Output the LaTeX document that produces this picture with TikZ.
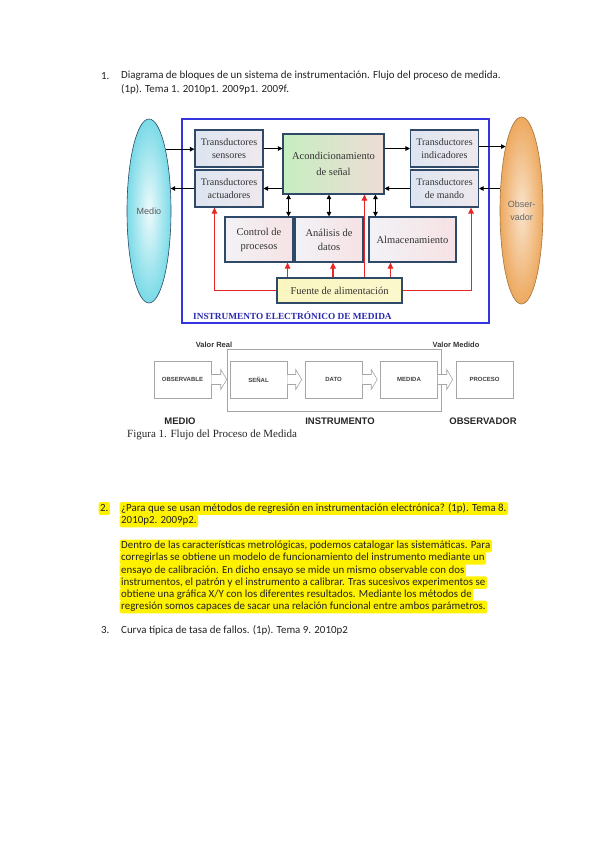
\documentclass[tikz,border=0pt]{standalone}
\usepackage{fontspec}
\setmainfont{Carlito}
\newfontfamily\serifb{Liberation Serif}
\newfontfamily\sansb{Liberation Sans}
\usetikzlibrary{arrows.meta,calc,shapes.geometric}
\definecolor{frameblue}{HTML}{3434E0}
\definecolor{labelblue}{HTML}{2A2AB0}
\definecolor{boxedge}{HTML}{2F4A68}
\definecolor{tbl}{HTML}{DDE5F0}
\definecolor{tbr}{HTML}{EEE8EE}
\definecolor{acl}{HTML}{C6EEC0}
\definecolor{acr}{HTML}{EEDCD6}
\definecolor{lowl}{HTML}{F2F2F6}
\definecolor{lowr}{HTML}{F6E2E4}
\definecolor{fuentefill}{HTML}{FAF6C0}
\definecolor{medioc}{HTML}{6AD6E4}
\definecolor{obsc}{HTML}{ECA456}
\definecolor{redarr}{HTML}{E82626}
\definecolor{hl}{HTML}{FFF200}
\definecolor{txt}{HTML}{222222}
\newcommand\harrow[2]{\draw[harr] ($(#1.east)+(0,-5)$) -- ($(#2.west)+(-9,-5)$) -- ($(#2.west)+(-9,-10)$) -- ($(#2.west)+(-3,0)$) -- ($(#2.west)+(-9,10)$) -- ($(#2.west)+(-9,5)$) -- ($(#1.east)+(0,5)$);}
\begin{document}
\begin{tikzpicture}[x=1pt,y=-1pt,
  tbox/.style={draw=boxedge, line width=1.1pt, left color=tbl, right color=tbr, align=center, text=black!80, inner sep=0pt, font=\serifb\fontsize{10}{13}\selectfont, minimum width=68, minimum height=37},
  lbox/.style={draw=boxedge, line width=1.1pt, left color=lowl, right color=lowr, align=center, text=black!80, inner sep=0pt, font=\serifb\fontsize{10.5}{14}\selectfont, minimum height=45},
  blk/.style={line width=0.9pt, -{Triangle[length=4.5pt,width=4.5pt]}},
  blk2/.style={line width=0.9pt, {Triangle[length=4.5pt,width=4.5pt]}-{Triangle[length=4.5pt,width=4.5pt]}},
  rarr/.style={draw=redarr, line width=1.1pt, -{Triangle[length=6pt,width=5.5pt]}},
  fbox/.style={draw=gray!70, line width=0.6pt, minimum width=57, minimum height=37, inner sep=0pt, font=\sansb\bfseries\fontsize{6}{7}\selectfont, text=black!75},
  harr/.style={draw=gray!70, line width=0.6pt, fill=white},
  flab/.style={font=\sansb\bfseries\fontsize{9.5}{11}\selectfont, text=black!85},
  qtxt/.style={font=\fontsize{10.9}{12}\selectfont, text=txt, anchor=west, inner sep=0pt},
  hlt/.style={qtxt, fill=hl, inner xsep=1.5pt, inner ysep=0.6pt, text height=8.4pt, text depth=3pt, rounded corners=1.5pt}
]
\useasboundingbox (0,0) rectangle (599,848);
\fill[white] (0,0) rectangle (599,848);

% ---------- question 1 ----------
\node[qtxt] (n1) at (101,76) {1.};
\node[qtxt] (t1a) at (121,76) {Diagrama de bloques de un sistema de instrumentación. Flujo del proceso de medida.};
\node[qtxt] (t1b) at (121,89) {(1p). Tema 1. 2010p1. 2009p1. 2009f.};

% ---------- block diagram ----------
\node[draw=frameblue, line width=1.3pt, minimum width=307, minimum height=204, inner sep=0pt] (frame) at (335.5,221) {};
\node[ellipse, draw=boxedge, line width=0.6pt, inner color=medioc!12, outer color=medioc!90, minimum width=44, minimum height=184, inner sep=0pt, font=\sansb\fontsize{9}{11}\selectfont, text=black!65] (medio) at (149,211) {Medio};
\node[ellipse, draw=obsc!70!black, line width=0.6pt, inner color=obsc!30, outer color=obsc!95, minimum width=43, minimum height=187, inner sep=0pt, align=center, font=\sansb\fontsize{9}{13}\selectfont, text=black!60] (obs) at (521.5,210.5) {Obser-\\vador};

\node[tbox] (sens) at (229,148.5) {Transductores\\sensores};
\node[tbox] (act) at (229,188.5) {Transductores\\actuadores};
\node[tbox] (ind) at (444.5,148.5) {Transductores\\indicadores};
\node[tbox] (mando) at (444.5,188.5) {Transductores\\de mando};
\node[tbox, left color=acl, right color=acr, minimum width=101, minimum height=60, font=\serifb\fontsize{10.5}{16}\selectfont] (acond) at (333.5,164) {Acondicionamiento\\de señal};
\node[lbox, minimum width=68] (ctrl) at (259,239.5) {Control de\\procesos};
\node[lbox, minimum width=68] (anal) at (329,239.5) {Análisis de\\datos};
\node[lbox, minimum width=87] (alm) at (412.5,239.5) {Almacenamiento};
\node[tbox, left color=fuentefill, right color=fuentefill!80!white, minimum width=125, minimum height=25, font=\serifb\fontsize{10.5}{13}\selectfont] (fuente) at (339.5,290.5) {Fuente de alimentación};
\node[anchor=west, inner sep=0pt, text=labelblue, font=\serifb\bfseries\fontsize{9.3}{11}\selectfont] (lbl) at (193,316) {INSTRUMENTO ELECTRÓNICO DE MEDIDA};

% black horizontal arrows
\draw[blk] (medio.75.6) -- (medio.75.6 -| sens.west);
\draw[blk] (sens.east) -- (sens.east -| acond.west);
\draw[blk] (acond.east |- ind.west) -- (ind.west);
\draw[blk] (obs.104.6 -| ind.east) -- (obs.104.6);
\draw[blk] (act.west) -- (act.west -| medio.46.6);
\draw[blk] (acond.west |- act.east) -- (act.east);
\draw[blk] (mando.west) -- (mando.west -| acond.east);
\draw[blk] (obs.133.5 |- mando.east) -- (mando.east);

% black vertical double arrows
\coordinate (v1) at ($(ctrl.north east)+(-5,0)$);
\coordinate (v2) at (anal.north);
\coordinate (v3) at ($(alm.north west)+(7,0)$);
\draw[blk2] (v1) -- (v1 |- acond.south);
\draw[blk2] (v2) -- (v2 |- acond.south);
\draw[blk2] (v3) -- (v3 |- acond.south);

% red supply arrows
\coordinate (r1) at ($(ctrl.south east)+(-6,0)$);
\coordinate (r2) at ($(anal.south)+(4,0)$);
\coordinate (r3) at ($(acond.south west)+(82,0)$);
\coordinate (r4) at ($(alm.south west)+(22,0)$);
\coordinate (r5) at ($(act.south west)+(20,0)$);
\coordinate (r6) at ($(mando.south east)+(-8,0)$);
\draw[rarr] (r1 |- fuente.north) -- (r1);
\draw[rarr] (r2 |- fuente.north) -- (r2);
\draw[rarr] (r3 |- fuente.north) -- (r3);
\draw[rarr] (r4 |- fuente.north) -- (r4);
\draw[rarr] (fuente.west) -| (r5);
\draw[rarr] (fuente.east) -| (r6);

% ---------- flow diagram ----------
\node[draw=gray!70, line width=0.6pt, minimum width=214, minimum height=62, inner sep=0pt] (inst) at (334,380) {};
\node[fbox] (obsv) at (182.5,379.5) {OBSERVABLE};
\node[fbox] (senal) at (258.5,379.5) {SEÑAL};
\node[fbox] (dato) at (333.5,379.5) {DATO};
\node[fbox] (medida) at (409,379.5) {MEDIDA};
\node[fbox] (proceso) at (484.5,379.5) {PROCESO};
\harrow{obsv}{senal}
\harrow{senal}{dato}
\harrow{dato}{medida}
\harrow{medida}{proceso}
\node[font=\sansb\bfseries\fontsize{7.5}{9}\selectfont, text=black!80] (vr) at (214,344.5) {Valor Real};
\node[font=\sansb\bfseries\fontsize{7.5}{9}\selectfont, text=black!80] (vm) at (456,344.5) {Valor Medido};
\node[flab] (lmedio) at (180,421) {MEDIO};
\node[flab] (linst) at (340,421) {INSTRUMENTO};
\node[flab] (lobs) at (483,421) {OBSERVADOR};
\node[anchor=west, inner sep=0pt, font=\serifb\fontsize{11}{13}\selectfont, text=black!85] (cap) at (127,435) {Figura 1. Flujo del Proceso de Medida};

% ---------- question 2 ----------
\node[hlt] (n2) at (98.5,508.5) {2.};
\node[hlt] (t2a) at (119.5,508.5) {¿Para que se usan métodos de regresión en instrumentación electrónica? (1p). Tema 8.};
\node[hlt] (t2b) at (119.5,521) {2010p2. 2009p2.};
\node[hlt] (p1) at (119.5,546) {Dentro de las características metrológicas, podemos catalogar las sistemáticas. Para};
\node[hlt] (p2) at (119.5,558.2) {corregirlas se obtiene un modelo de funcionamiento del instrumento mediante un};
\node[hlt] (p3) at (119.5,570.4) {ensayo de calibración. En dicho ensayo se mide un mismo observable con dos};
\node[hlt] (p4) at (119.5,582.6) {instrumentos, el patrón y el instrumento a calibrar. Tras sucesivos experimentos se};
\node[hlt] (p5) at (119.5,594.8) {obtiene una gráfica X/Y con los diferentes resultados. Mediante los métodos de};
\node[hlt] (p6) at (119.5,607) {regresión somos capaces de sacar una relación funcional entre ambos parámetros.};

% ---------- question 3 ----------
\node[qtxt] (n3) at (101,630) {3.};
\node[qtxt] (t3) at (121,630) {Curva típica de tasa de fallos. (1p). Tema 9. 2010p2};
\end{tikzpicture}
\end{document}
